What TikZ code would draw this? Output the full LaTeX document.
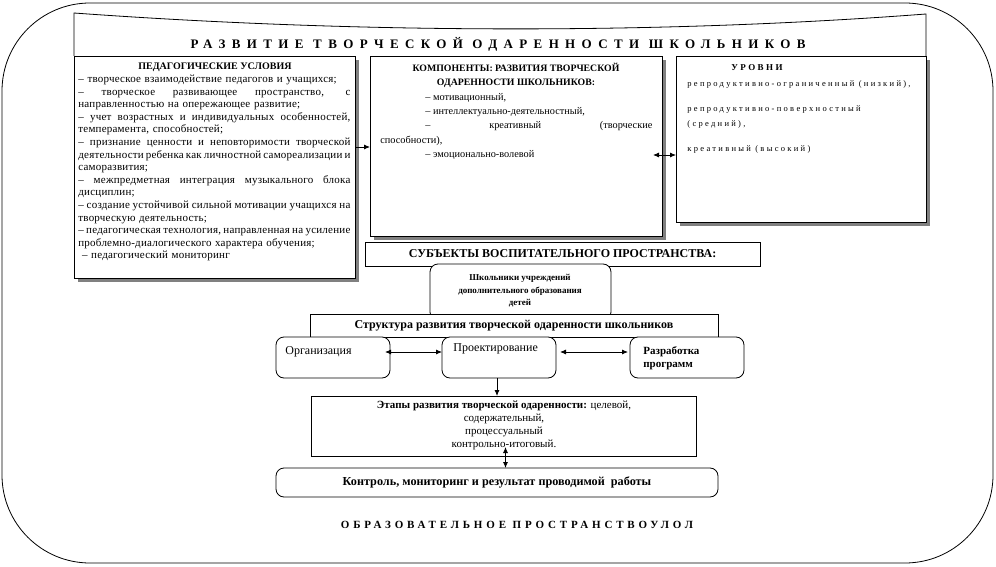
\documentclass[tikz,border=0pt]{standalone}
\usepackage{fontspec}
\setmainfont{Liberation Serif}
\newfontfamily\titlefont[LetterSpace=49]{Liberation Serif}
\newfontfamily\bottomfont[LetterSpace=35]{Liberation Serif}
\newfontfamily\spacedfont[LetterSpace=27]{Liberation Serif}
\newfontfamily\bodyfont[LetterSpace=2]{Liberation Serif}
\usetikzlibrary{arrows.meta,shadows}
\setlength{\parindent}{0pt}
\newcommand{\fullline}[1]{\leavevmode\hbox to 272pt{\spaceskip=0.25em plus 1fil minus 0.1em\relax #1}}

\begin{document}
\begin{tikzpicture}[x=1pt,y=-1pt,
  line width=0.8pt,
  shadowbox/.style={draw,fill=white,inner sep=0pt,outer sep=0pt,anchor=north west,
    drop shadow={shadow xshift=4pt,shadow yshift=-4pt,fill=gray,opacity=1}},
  plainbox/.style={draw,fill=white,inner sep=0pt,outer sep=0pt,anchor=north west},
  roundbox/.style={plainbox,rounded corners=8pt},
  arr/.style={-{Latex[length=6pt,width=5pt]}},
  twoarr/.style={{Latex[length=6pt,width=5pt]}-{Latex[length=6pt,width=5pt]}}]
\useasboundingbox (0,0) rectangle (996,567);
% outer frame and title frame
\draw[rounded corners=88pt] (2,3) rectangle (993,563);
\draw (74,56) -- (74,13) .. controls (350,33) and (650,35) .. (926,14) -- (926,56);
\node[font=\titlefont\bfseries\fontsize{13}{15}\selectfont] (title) at (498,44)
  {РАЗВИТИЕ ТВОРЧЕСКОЙ ОДАРЕННОСТИ ШКОЛЬНИКОВ};
% three upper boxes
\node[shadowbox,minimum width=281pt,minimum height=222pt] (cond) at (74,56) {};
\node[shadowbox,minimum width=292pt,minimum height=180pt] (comp) at (370,56) {};
\node[shadowbox,minimum width=250pt,minimum height=166pt] (levels) at (676,56) {};
\node[font=\bfseries\fontsize{10}{12}\selectfont,inner sep=0pt] (condtitle) at (215,67)
  {ПЕДАГОГИЧЕСКИЕ УСЛОВИЯ};
\node[anchor=north west,text width=272pt,align=left,inner sep=0pt,
  font=\bodyfont\fontsize{11}{12.6}\selectfont] (condtext) at (78,74.5)
  {– творческое взаимодействие педагогов и учащихся;\\
   \fullline{– творческое развивающее пространство, с}\\
   направленностью на опережающее развитие;\\
   \fullline{– учет возрастных и индивидуальных особенностей,}\\
   темперамента, способностей;\\
   \fullline{– признание ценности и неповторимости творческой}\\
   \fullline{деятельности ребенка как личностной самореализации и}\\
   саморазвития;\\
   \fullline{– межпредметная интеграция музыкального блока}\\
   дисциплин;\\
   \fullline{– создание устойчивой сильной мотивации учащихся на}\\
   творческую деятельность;\\
   \fullline{– педагогическая технология, направленная на усиление}\\
   проблемно-диалогического характера обучения;\\
   \ – педагогический мониторинг};
\node[font=\bfseries\fontsize{9.8}{14.5}\selectfont,align=center,inner sep=0pt] (comptitle) at (516,75.5)
  {КОМПОНЕНТЫ: РАЗВИТИЯ ТВОРЧЕСКОЙ\\ОДАРЕННОСТИ ШКОЛЬНИКОВ:};
\node[anchor=north west,text width=272pt,align=justify,inner sep=0pt,
  font=\fontsize{10.3}{14.2}\selectfont] (comptext) at (380,93)
  {\hspace*{45pt}– мотивационный,\par
   \hspace*{45pt}– интеллектуально-деятельностный,\par
   \hspace*{45pt}– креативный (творческие\linebreak способности),\par
   \hspace*{45pt}– эмоционально-волевой};
\node[font=\spacedfont\bfseries\fontsize{9}{12}\selectfont,inner sep=0pt] (levelstitle) at (757,68) {УРОВНИ};
\node[anchor=north west,align=left,inner sep=0pt,
  font=\spacedfont\fontsize{8.5}{15}\selectfont] (levelstext) at (687,80)
  {репродуктивно-ограниченный (низкий),\\[10pt]
   репродуктивно-поверхностный\\(средний),\\[10pt]
   креативный (высокий)};
\draw[arr] ([yshift=-91pt]cond.north east) -- ([yshift=-91pt]comp.north west);
\draw[twoarr] ([xshift=-9pt,yshift=-99pt]comp.north east) -- ([yshift=-99pt]levels.north west);
% subjects and structure
\node[plainbox,minimum width=395pt,minimum height=24pt] (subj) at (365,242) {};
\node[font=\bfseries\fontsize{12}{14}\selectfont] at (subj.center) {СУБЪЕКТЫ ВОСПИТАТЕЛЬНОГО ПРОСТРАНСТВА:};
\node[roundbox,minimum width=181pt,minimum height=56pt] (pupils) at (430,264) {};
\node[font=\bfseries\fontsize{9}{12.5}\selectfont,align=center,inner sep=0pt] (pupilstext) at (520,291)
  {Школьники учреждений\\дополнительного образования\\детей};
\node[plainbox,minimum width=408pt,minimum height=23pt] (struct) at (310,314) {};
\node[font=\bfseries\fontsize{12}{14}\selectfont] at (struct.center) {Структура развития творческой одаренности школьников};
\node[roundbox,minimum width=114pt,minimum height=41pt] (org) at (276,337) {};
\node[roundbox,minimum width=114pt,minimum height=41pt] (proj) at (442,337) {};
\node[roundbox,minimum width=114pt,minimum height=41pt] (prog) at (630,337) {};
\node[anchor=west,font=\fontsize{12}{14}\selectfont,inner sep=0pt] (orgtext) at (285,352) {Организация};
\node[anchor=west,font=\fontsize{12}{14}\selectfont,inner sep=0pt] (projtext) at (453,349) {Проектирование};
\node[anchor=west,align=left,font=\bfseries\fontsize{11}{13.5}\selectfont,inner sep=0pt] (progtext) at (643,358)
  {Разработка\\программ};
\draw[twoarr] ([xshift=-5pt,yshift=-15pt]org.north east) -- ([yshift=-15pt]proj.north west);
\draw[twoarr] ([xshift=4pt,yshift=-15pt]proj.north east) -- ([xshift=-2pt,yshift=-15pt]prog.north west);
% stages and control
\node[plainbox,minimum width=385pt,minimum height=60pt] (stages) at (311,396) {};
\node[anchor=north,align=center,inner sep=0pt,font=\fontsize{11}{12.7}\selectfont] (stagestext) at (504,401)
  {\textbf{Этапы развития творческой одаренности:} целевой,\\содержательный,\\процессуальный\\контрольно-итоговый.};
\draw[arr] ([xshift=-2pt]proj.south) -- ([xshift=-2pt]proj.south |- stages.north);
\node[roundbox,minimum width=442pt,minimum height=29pt] (ctrl) at (276,468) {};
\node[font=\bfseries\fontsize{12.2}{14}\selectfont] at (ctrl.center) {Контроль, мониторинг и результат проводимой \ работы};
\draw[twoarr] ([xshift=2pt,yshift=9pt]stages.south) -- ([xshift=2pt]stages.south |- ctrl.north);
\node[font=\bottomfont\bfseries\fontsize{11}{13}\selectfont] (eduspace) at (517,525)
  {ОБРАЗОВАТЕЛЬНОЕ ПРОСТРАНСТВОУЛОЛ};
\end{tikzpicture}
\end{document}
